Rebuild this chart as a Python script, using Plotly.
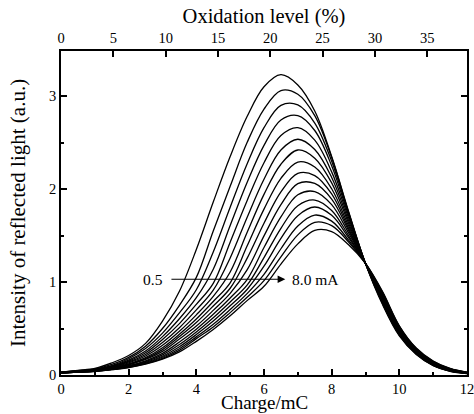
import plotly.graph_objects as go

# ---- data ----
charge = [0, 0.5, 1, 1.5, 2, 2.5, 3, 3.5, 4, 4.5, 5, 5.5, 6, 6.5, 7, 7.5, 8, 8.5, 9, 9.5, 10, 10.5, 11, 11.5, 12]

currents_mA = [0.5, 1.0, 1.5, 2.0, 2.5, 3.0, 3.5, 4.0, 4.5, 5.0, 5.5, 6.0, 6.5, 7.0, 7.5, 8.0]

i_0p5 = [.03, .05, .07, .13, .21, .34, .58, .90, 1.35, 1.86, 2.35, 2.78, 3.10, 3.23, 3.12, 2.84, 2.35, 1.76, 1.20, .76, .42, .22, .10, .04, .015]
i_1p0 = [.03, .047, .065, .115, .19, .31, .50, .75, 1.05, 1.55, 2.03, 2.50, 2.86, 3.06, 3.02, 2.79, 2.34, 1.75, 1.20, .77, .43, .225, .103, .042, .016]
i_1p5 = [.03, .045, .06, .10, .175, .285, .45, .668, .917, 1.324, 1.805, 2.27, 2.66, 2.90, 2.905, 2.71, 2.30, 1.74, 1.20, .779, .435, .229, .107, .044, .017]
i_2p0 = [.028, .043, .058, .096, .16, .259, .413, .605, .831, 1.138, 1.608, 2.07, 2.47, 2.743, 2.79, 2.63, 2.25, 1.715, 1.20, .788, .442, .234, .11, .046, .018]
i_2p5 = [.028, .041, .055, .09, .15, .239, .382, .553, .76, .986, 1.428, 1.875, 2.283, 2.575, 2.66, 2.526, 2.185, 1.69, 1.20, .797, .449, .239, .113, .048, .019]
i_3p0 = [.027, .04, .053, .086, .14, .221, .349, .509, .70, .912, 1.259, 1.695, 2.106, 2.42, 2.536, 2.426, 2.125, 1.662, 1.20, .807, .457, .243, .117, .05, .02]
i_3p5 = [.026, .038, .05, .081, .13, .204, .319, .47, .647, .845, 1.108, 1.533, 1.943, 2.267, 2.42, 2.332, 2.066, 1.633, 1.20, .816, .464, .248, .12, .052, .021]
i_4p0 = [.025, .036, .048, .076, .12, .187, .293, .438, .603, .791, .992, 1.387, 1.784, 2.115, 2.291, 2.237, 2.003, 1.605, 1.20, .825, .471, .253, .123, .054, .022]
i_4p5 = [.025, .035, .046, .073, .115, .177, .273, .413, .564, .742, .933, 1.254, 1.632, 1.97, 2.169, 2.145, 1.947, 1.579, 1.20, .835, .479, .257, .127, .056, .023]
i_5p0 = [.024, .034, .045, .07, .11, .167, .254, .387, .526, .695, .878, 1.13, 1.496, 1.833, 2.058, 2.06, 1.891, 1.556, 1.20, .844, .486, .262, .13, .058, .024]
i_5p5 = [.023, .033, .044, .066, .10, .153, .233, .355, .493, .653, .829, 1.027, 1.372, 1.70, 1.938, 1.973, 1.832, 1.529, 1.20, .853, .493, .267, .133, .06, .025]
i_6p0 = [.022, .032, .043, .064, .095, .144, .217, .328, .463, .616, .786, .966, 1.263, 1.578, 1.82, 1.882, 1.769, 1.50, 1.20, .863, .501, .271, .137, .062, .026]
i_6p5 = [.022, .031, .042, .061, .09, .135, .202, .304, .435, .58, .744, .92, 1.17, 1.469, 1.714, 1.807, 1.717, 1.478, 1.20, .872, .508, .276, .14, .064, .027]
i_7p0 = [.021, .03, .041, .06, .087, .129, .191, .283, .41, .546, .705, .875, 1.082, 1.358, 1.603, 1.72, 1.655, 1.45, 1.20, .881, .515, .281, .143, .066, .028]
i_7p5 = [.02, .03, .04, .058, .083, .122, .18, .265, .391, .517, .671, .836, 1.015, 1.27, 1.507, 1.642, 1.606, 1.43, 1.20, .891, .523, .285, .147, .068, .029]
i_8p0 = [.02, .03, .04, .057, .08, .117, .17, .248, .362, .49, .637, .80, .954, 1.193, 1.41, 1.556, 1.543, 1.40, 1.20, .90, .53, .29, .15, .07, .03]

curves = [i_0p5, i_1p0, i_1p5, i_2p0, i_2p5, i_3p0, i_3p5, i_4p0,
          i_4p5, i_5p0, i_5p5, i_6p0, i_6p5, i_7p0, i_7p5, i_8p0]

x_range = [0, 12]
y_range = [0, 3.485]
oxidation_range = [0, 38.8]
bottom_ticks = [0, 2, 4, 6, 8, 10, 12]
top_ticks = [0, 5, 10, 15, 20, 25, 30, 35]
left_ticks = [0, 1, 2, 3]

FONT = "Liberation Serif, Times New Roman, serif"

fig = go.Figure()
for cur, vals in zip(currents_mA, curves):
    fig.add_trace(go.Scatter(
        x=charge, y=vals, mode="lines", name=f"{cur} mA",
        line=dict(color="black", width=1.3, shape="spline", smoothing=1.0),
        showlegend=False, hoverinfo="skip",
    ))

# invisible trace so the top (oxidation level) axis is drawn
fig.add_trace(go.Scatter(
    x=oxidation_range, y=y_range, xaxis="x2", yaxis="y", mode="markers",
    marker=dict(opacity=0, size=1), showlegend=False, hoverinfo="skip",
))

axis_common = dict(
    showline=True, linecolor="black", linewidth=1.6,
    ticks="inside", tickcolor="black", tickwidth=1.5, ticklen=6,
    showgrid=False, zeroline=False, ticklabeloverflow="allow",
    tickfont=dict(family=FONT, size=14.5, color="black"),
)

fig.update_layout(
    width=474, height=414,
    margin=dict(l=61, r=7, t=51, b=39),
    paper_bgcolor="white", plot_bgcolor="white",
    font=dict(family=FONT, color="black"),
    xaxis=dict(
        range=x_range, tickvals=bottom_ticks,
        minor=dict(dtick=1, ticks="inside", ticklen=3, tickcolor="black", tickwidth=1.5),
        automargin=False,
        **axis_common,
    ),
    xaxis2=dict(
        range=oxidation_range, tickvals=top_ticks, overlaying="x", side="top", anchor="y",
        title=dict(text="Oxidation level (%)", font=dict(family=FONT, size=20.5, color="black"), standoff=1),
        automargin=False,
        **axis_common,
    ),
    yaxis=dict(
        range=y_range, tickvals=left_ticks, mirror="ticks",
        minor=dict(dtick=0.5, ticks="inside", ticklen=3, tickcolor="black", tickwidth=1.5),
        title=dict(text="Intensity of reflected light (a.u.)", font=dict(family=FONT, size=21, color="black"), standoff=18),
        automargin=False,
        **axis_common,
    ),
)

# bottom axis title, placed just under the tick labels and inside the canvas
fig.add_annotation(x=0.5, y=-0.1200, xref="paper", yref="paper", text="Charge/mC", showarrow=False,
                   xanchor="center", yanchor="bottom", borderpad=0,
                   font=dict(family=FONT, size=19, color="black"))

# arrow annotation 0.5 -> 8.0 mA
fig.add_annotation(x=6.63, y=1.03, ax=3.22, ay=1.03, xref="x", yref="y", axref="x", ayref="y",
                   text="", showarrow=True, arrowhead=2, arrowsize=1.4, arrowwidth=1.1,
                   arrowcolor="black", standoff=0, startstandoff=0)
fig.add_annotation(x=3.06, y=1.03, xref="x", yref="y", text="0.5", showarrow=False,
                   xanchor="right", yanchor="middle", font=dict(family=FONT, size=15.5, color="black"))
fig.add_annotation(x=6.76, y=1.03, xref="x", yref="y", text="8.0 mA", showarrow=False,
                   xanchor="left", yanchor="middle", font=dict(family=FONT, size=15.5, color="black"))

# remove the page's default body margin so the figure fills the window exactly
fig.write_html("out.html",
               config={"displayModeBar": False},
               post_script="document.body.style.margin='0px';document.body.style.overflow='hidden';")
